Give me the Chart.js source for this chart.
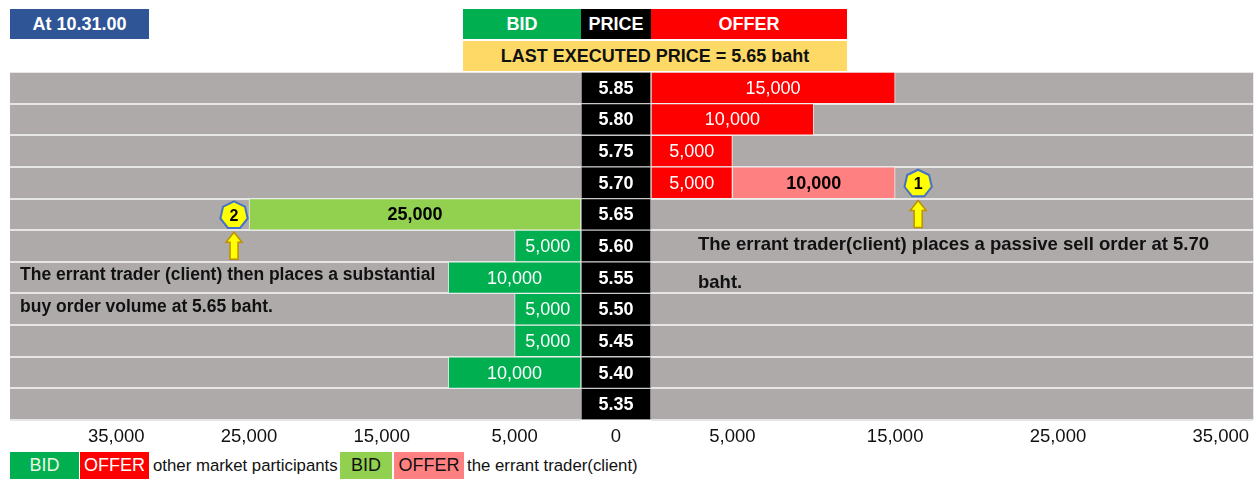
<!DOCTYPE html>
<html><head><meta charset="utf-8">
<script src="https://cdn.jsdelivr.net/npm/chart.js@4.4.1/dist/chart.umd.min.js"></script>
<style>
html,body{margin:0;padding:0;background:#fff;}
body{width:1255px;height:479px;position:relative;overflow:hidden;font-family:'Liberation Sans',Arial,sans-serif;}
.box{position:absolute;display:flex;align-items:center;justify-content:center;font-weight:bold;font-size:18px;color:#fff;white-space:nowrap;}
canvas{position:absolute;top:72px;}
.note{position:absolute;font-weight:bold;color:#111;line-height:1;white-space:nowrap;}
.lg{position:absolute;top:452px;height:27px;display:flex;align-items:center;justify-content:center;font-size:18px;}
.lt{position:absolute;top:452px;height:27px;line-height:28px;font-size:16.8px;color:#111;white-space:nowrap;}
</style></head><body>
<div class="box" style="left:10px;top:9px;width:139px;height:30px;background:#2F5597;">At 10.31.00</div>
<div class="box" style="left:463px;top:9px;width:118px;height:30px;background:#00B050;">BID</div>
<div class="box" style="left:581px;top:9px;width:70px;height:30px;background:#000;">PRICE</div>
<div class="box" style="left:651px;top:9px;width:196px;height:30px;background:#FF0000;">OFFER</div>
<div class="box" style="left:463px;top:41px;width:384px;height:30px;background:#FFD966;color:#111;">LAST EXECUTED PRICE = 5.65 baht</div>

<canvas id="bid" width="571" height="380" style="left:10px;"></canvas>
<canvas id="mid" width="70" height="380" style="left:581px;"></canvas>
<canvas id="offer" width="604" height="380" style="left:651px;"></canvas>

<div class="note" style="left:20px;top:266px;font-size:17.5px;">The errant trader (client) then places a substantial</div>
<div class="note" style="left:20px;top:298px;font-size:17.5px;">buy order volume at 5.65 baht.</div>
<div class="note" style="left:698px;top:235px;font-size:18.5px;">The errant trader(client) places a passive sell order at 5.70</div>
<div class="note" style="left:698px;top:273px;font-size:18.5px;">baht.</div>

<div class="lg" style="left:10px;width:69px;background:#00B050;color:#EAF6E6;">BID</div>
<div class="lg" style="left:80px;width:69px;background:#FF0000;color:#fff;">OFFER</div>
<div class="lt" style="left:153px;">other market participants</div>
<div class="lg" style="left:340px;width:52px;background:#92D050;color:#111;">BID</div>
<div class="lg" style="left:394px;width:70px;background:#FF8080;color:#111;">OFFER</div>
<div class="lt" style="left:467px;">the errant trader(client)</div>

<script>
// ---- data ----
const prices = ['5.85','5.80','5.75','5.70','5.65','5.60','5.55','5.50','5.45','5.40','5.35'];
const bidOthers   = [null, null, null, null, null, 5000, 10000, 5000, 5000, 10000, null];
const bidErrant   = [null, null, null, null, 25000, null, null, null, null, null, null];
const offerOthers = [15000, 10000, 5000, 5000, null, null, null, null, null, null, null];
const offerErrant = [null, null, null, 10000, null, null, null, null, null, null, null];
const bidTicks = [5000, 15000, 25000, 35000];
const offerTicks = [5000, 15000, 25000, 35000];
const centerTick = ['0'];
const priceBand = prices.map(() => 1);
const markerNumbers = { offer: '1', bid: '2' };

// ---- styling ----
const FONT = "'Liberation Sans', Arial, sans-serif";
const C = { gray:'#AEAAAA', green:'#00B050', lightGreen:'#92D050', red:'#FF0000', pink:'#FF8080', sep:'#E6E6E6', edge:'#EFEFEF' };
const fmt = v => Number(v).toLocaleString('en-US');

const grayBg = {
  id: 'grayBg',
  beforeDraw(chart) {
    const { ctx, chartArea: a } = chart;
    ctx.save(); ctx.fillStyle = C.gray;
    ctx.fillRect(a.left, a.top, a.right - a.left, a.bottom - a.top);
    ctx.restore();
  }
};

const valueLabels = {
  id: 'valueLabels',
  afterDatasetsDraw(chart) {
    const ctx = chart.ctx;
    chart.data.datasets.forEach((ds, i) => {
      if (!ds.labelFont) return;
      chart.getDatasetMeta(i).data.forEach((el, j) => {
        const v = ds.data[j];
        if (v == null) return;
        const t = ds.labelText ? ds.labelText[j] : fmt(v);
        ctx.save();
        ctx.font = ds.labelFont; ctx.fillStyle = ds.labelColor;
        ctx.textAlign = 'center'; ctx.textBaseline = 'middle';
        ctx.fillText(t, (el.x + el.base) / 2, el.y + 1);
        ctx.restore();
      });
    });
  }
};

function heptagon(ctx, cx, cy, r) {
  ctx.beginPath();
  for (let k = 0; k < 7; k++) {
    const a = -Math.PI / 2 + k * 2 * Math.PI / 7;
    const px = cx + r * Math.cos(a), py = cy + r * Math.sin(a);
    k ? ctx.lineTo(px, py) : ctx.moveTo(px, py);
  }
  ctx.closePath();
}
function upArrow(ctx, cx, top, h) {
  const hw = 8, sw = 4, hh = 10;
  ctx.beginPath();
  ctx.moveTo(cx, top);
  ctx.lineTo(cx + hw, top + hh); ctx.lineTo(cx + sw, top + hh);
  ctx.lineTo(cx + sw, top + h); ctx.lineTo(cx - sw, top + h);
  ctx.lineTo(cx - sw, top + hh); ctx.lineTo(cx - hw, top + hh);
  ctx.closePath();
}
function markerPlugin(dsIndex, dir, gap, num) {
  return {
    id: 'marker' + num,
    afterDatasetsDraw(chart) {
      const ds = chart.data.datasets[dsIndex];
      const meta = chart.getDatasetMeta(dsIndex);
      const ctx = chart.ctx;
      ds.data.forEach((v, j) => {
        if (v == null) return;
        const el = meta.data[j];
        const cx = el.x + dir * gap;
        const cy = el.y + 1;
        ctx.save();
        heptagon(ctx, cx, cy, 14);
        ctx.fillStyle = '#FFFF00'; ctx.fill();
        ctx.lineWidth = 2; ctx.strokeStyle = '#4472C4'; ctx.stroke();
        ctx.fillStyle = '#000'; ctx.font = `bold 16px ${FONT}`;
        ctx.textAlign = 'center'; ctx.textBaseline = 'middle';
        ctx.fillText(num, cx, cy + 1);
        const top = el.y + el.height / 2 + 2;
        upArrow(ctx, cx, top, 27);
        ctx.fillStyle = '#FFFF00'; ctx.fill();
        ctx.lineWidth = 1.5; ctx.strokeStyle = '#BF9000'; ctx.stroke();
        ctx.restore();
      });
    }
  };
}

const barDefaults = { barPercentage: 1, categoryPercentage: 1, borderWidth: 1, borderColor: C.edge, borderSkipped: false };
const yScale = {
  type: 'category', stacked: true, offset: true,
  grid: { offset: true, color: C.sep, lineWidth: 2, drawTicks: false },
  border: { display: false }, ticks: { display: false }
};
function xScale(max, reverse, ticks) {
  return {
    type: 'linear', stacked: true, reverse, min: 0, max,
    grid: { display: false, drawTicks: false }, border: { display: false },
    afterBuildTicks: s => { s.ticks = ticks.map(v => ({ value: v })); },
    afterFit: s => { s.height = 32; },
    ticks: { callback: v => fmt(v), color: '#111', font: { family: FONT, size: 18.5 }, padding: 6, maxRotation: 0, autoSkip: false }
  };
}
const common = {
  indexAxis: 'y', responsive: false, animation: false, events: [],
  layout: { padding: 0 },
  plugins: { legend: { display: false }, tooltip: { enabled: false } }
};

new Chart(document.getElementById('bid'), {
  type: 'bar',
  data: { labels: prices, datasets: [
    { data: bidOthers, backgroundColor: C.green, labelFont: `18px ${FONT}`, labelColor: '#fff', ...barDefaults },
    { data: bidErrant, backgroundColor: C.lightGreen, labelFont: `bold 18px ${FONT}`, labelColor: '#000', ...barDefaults }
  ]},
  options: { ...common, scales: { x: xScale(43000, true, bidTicks), y: yScale } },
  plugins: [grayBg, valueLabels, markerPlugin(1, -1, 15, markerNumbers.bid)]
});

new Chart(document.getElementById('mid'), {
  type: 'bar',
  data: { labels: prices, datasets: [
    { data: priceBand, backgroundColor: '#000', labelText: prices, labelFont: `bold 18px ${FONT}`, labelColor: '#fff',
      barPercentage: 1, categoryPercentage: 1, borderWidth: 1, borderColor: '#C8C8C8', borderSkipped: false }
  ]},
  options: { ...common, scales: {
    x: { type: 'linear', min: 0, max: 1, grid: { display: false, drawTicks: false }, border: { display: false },
         afterBuildTicks: s => { s.ticks = [{ value: 0.5 }]; }, afterFit: s => { s.height = 32; },
         ticks: { callback: () => centerTick[0], color: '#111', font: { family: FONT, size: 18.5 }, padding: 6, maxRotation: 0 } },
    y: { ...yScale, grid: { display: false, drawTicks: false } }
  } },
  plugins: [valueLabels]
});

new Chart(document.getElementById('offer'), {
  type: 'bar',
  data: { labels: prices, datasets: [
    { data: offerOthers, backgroundColor: C.red, labelFont: `18px ${FONT}`, labelColor: '#fff', ...barDefaults },
    { data: offerErrant, backgroundColor: C.pink, labelFont: `bold 18px ${FONT}`, labelColor: '#000', ...barDefaults }
  ]},
  options: { ...common, scales: { x: xScale(37000, false, offerTicks), y: yScale } },
  plugins: [grayBg, valueLabels, markerPlugin(1, 1, 23, markerNumbers.offer)]
});
</script>
</body></html>
